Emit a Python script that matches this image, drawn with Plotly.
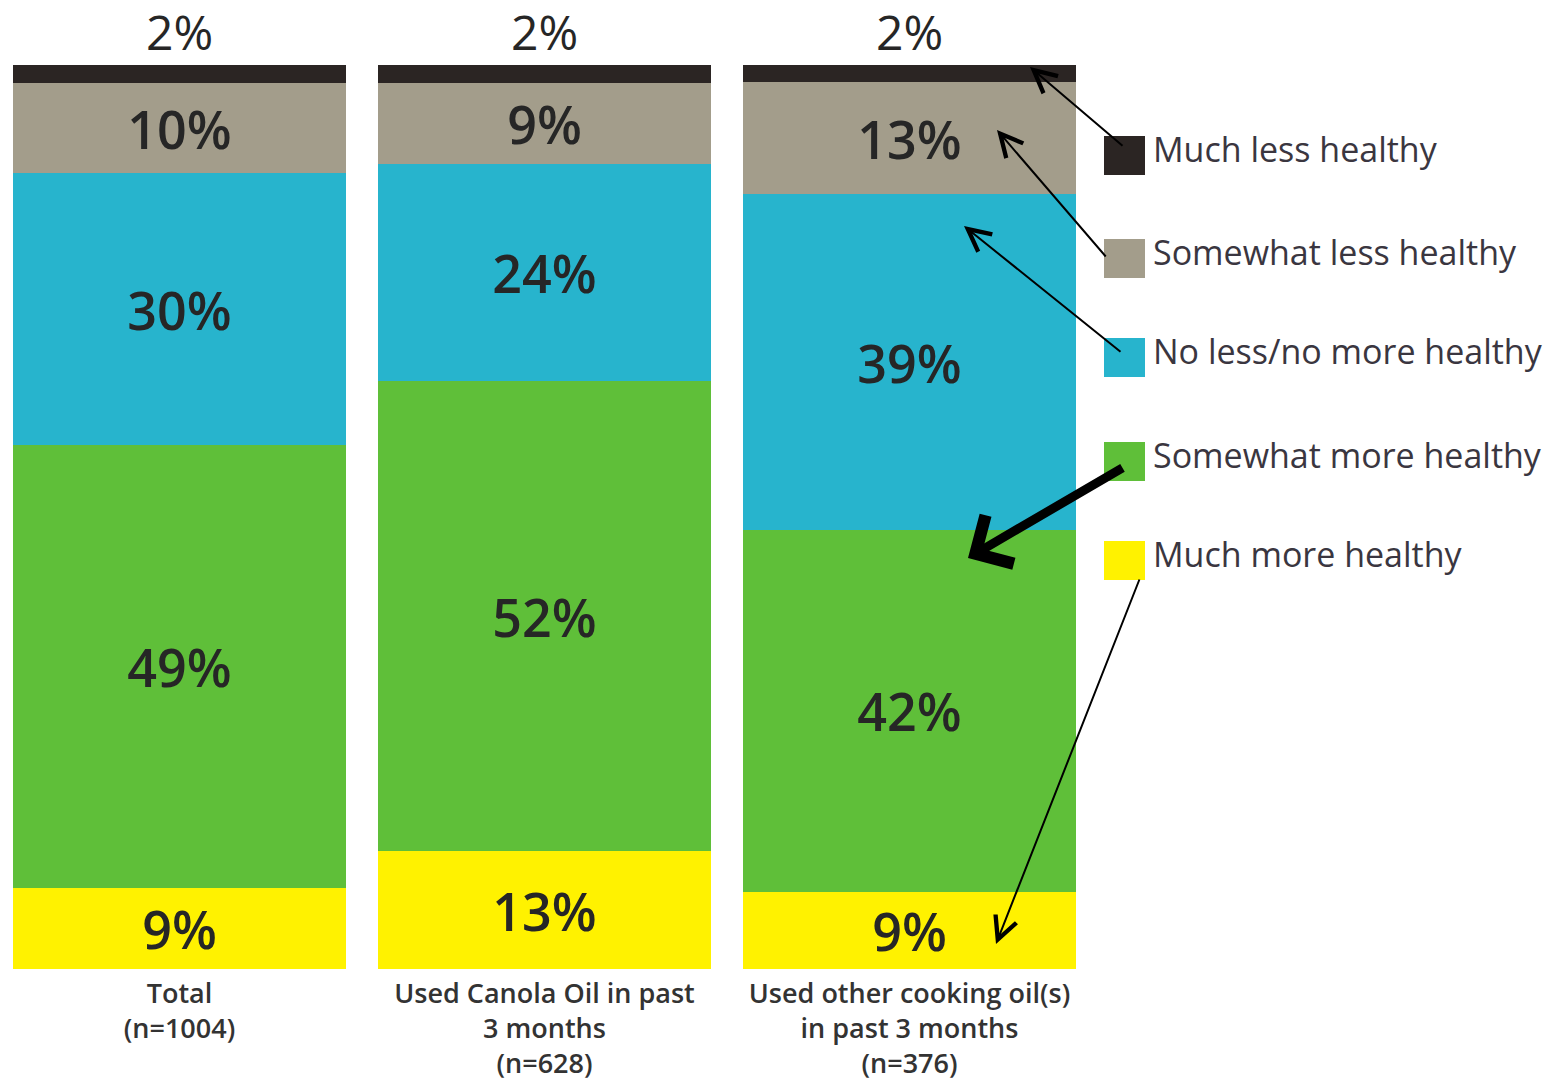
import plotly.graph_objects as go

# ---- data ----
categories = ["Total<br>(n=1004)",
              "Used Canola Oil in past<br>3 months<br>(n=628)",
              "Used other cooking oil(s)<br>in past 3 months<br>(n=376)"]
series_names = ["Much more healthy", "Somewhat more healthy", "No less/no more healthy",
                "Somewhat less healthy", "Much less healthy"]
much_more = [9, 13, 9]
somewhat_more = [49, 52, 42]
no_change = [30, 24, 39]
somewhat_less = [10, 9, 13]
much_less = [2, 2, 2]
colors = ["#fff200", "#5fbf39", "#27b4cd", "#a39d8b", "#2b2523"]

series_values = [much_more, somewhat_more, no_change, somewhat_less, much_less]

W, H = 1548, 1084
ML, MR, MT, MB = 0, 453, 65, 115
PW = W - ML - MR
PH = H - MT - MB

def px(x):
    return (x - ML) / PW

def py(y):
    return (H - MB - y) / PH

TXT = "#262626"
FONT = "Open Sans, Noto Sans, sans-serif"

fig = go.Figure()
xs = [0, 1, 2]
for name, vals, col in zip(series_names, series_values, colors):
    inside = name != "Much less healthy"
    fig.add_trace(go.Bar(
        x=xs, y=vals, name=name,
        marker=dict(color=col, line=dict(width=0)),
        text=[f"{v}%" for v in vals] if inside else None,
        textposition="inside" if inside else "none",
        insidetextanchor="middle",
        constraintext="none",
        textfont=dict(size=52, color=TXT, family=FONT, weight=600),
        showlegend=False,
        hoverinfo="skip",
    ))

# top labels (2%) above each bar
for i, v in enumerate(much_less):
    fig.add_annotation(x=xs[i], y=100, xref="x", yref="y", text=f"{v}%",
                       showarrow=False, yanchor="bottom", yshift=0, borderpad=0,
                       font=dict(size=48, color=TXT, family=FONT))

# manual legend
leg_tops = [136, 239, 338, 442, 541]
leg_order = list(reversed(range(len(series_names))))  # Much less first
for k, idx in enumerate(leg_order):
    t = leg_tops[k]
    fig.add_shape(type="rect", xref="paper", yref="paper",
                  x0=px(1104), x1=px(1145), y0=py(t + 39), y1=py(t),
                  fillcolor=colors[idx], line=dict(width=0))
    fig.add_annotation(xref="paper", yref="paper", x=px(1151), y=py(t + 13),
                       text=series_names[idx], showarrow=False,
                       xanchor="left", yanchor="middle",
                       font=dict(size=34, color="#3a3640", family=FONT))

# arrows (tail at legend swatch, head at the bar)
arrows = [
    ((1124, 147), (1030, 67), 2, 5, 1.0),
    ((1107, 258), (997, 130), 2, 5, 1.0),
    ((1122, 353), (964, 226), 2, 5, 1.0),
    ((1124, 467), (968, 558), 9, 4, 0.5),
    ((1140, 578), (996, 944), 2, 5, 1.0),
]
for (tx, ty), (hx, hy), w, head, size in arrows:
    fig.add_annotation(xref="paper", yref="paper", x=px(hx), y=py(hy),
                       ax=tx - hx, ay=ty - hy, showarrow=True,
                       arrowhead=head, arrowwidth=w, arrowsize=size * 2.2 if w < 5 else 1.2,
                       arrowcolor="#000000", text="")

fig.update_layout(
    barmode="stack",
    barnorm="percent",
    bargap=32 / 365,
    width=W, height=H,
    margin=dict(l=ML, r=MR, t=MT, b=MB, pad=0),
    paper_bgcolor="white", plot_bgcolor="white",
    font=dict(family=FONT),
    xaxis=dict(range=[-179.5 / 365, 2 + (PW - 909.5) / 365],
               tickmode="array", tickvals=xs, ticktext=categories,
               tickfont=dict(size=27, color="#333333", family=FONT, weight=600),
               ticklabelstandoff=6,
               showline=False, showgrid=False, zeroline=False, ticks=""),
    yaxis=dict(range=[0, 100], visible=False, showgrid=False, zeroline=False),
)

fig.write_html("out.html")
